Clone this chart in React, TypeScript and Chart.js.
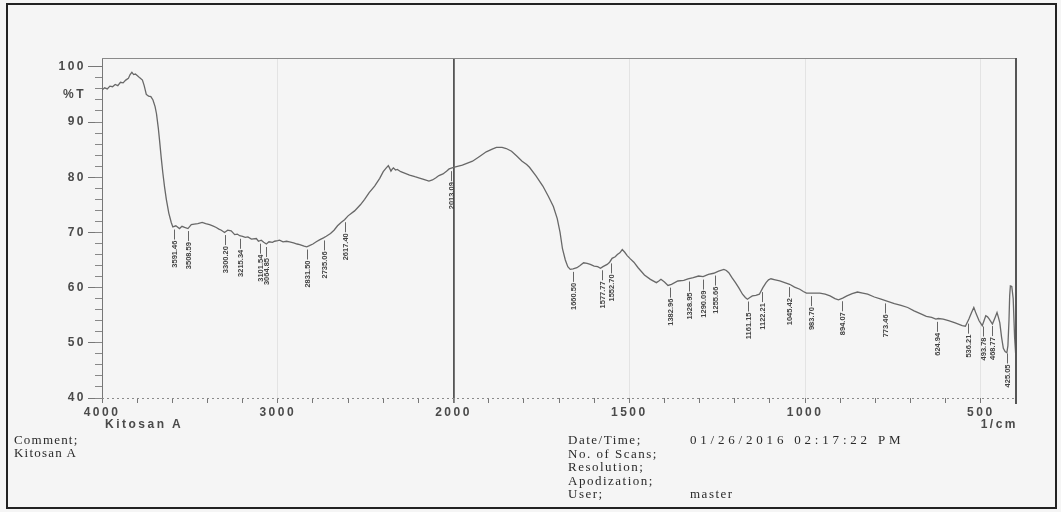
import React, { useEffect, useRef } from "react";
import { Chart, registerables } from "chart.js";

Chart.register(...registerables);

// ---- data ----
const wavenumbers = [
  4000, 3985, 3970, 3955, 3940, 3925, 3910, 3895, 3880, 3865, 3850, 3840, 3830, 3820, 3810, 3795, 3785, 3770,
  3760, 3748, 3735, 3722, 3710, 3698, 3690, 3680, 3672, 3663, 3654, 3644, 3634, 3620, 3606, 3597, 3580, 3559,
  3545, 3530, 3511, 3492, 3475, 3455, 3430, 3410, 3388, 3370, 3350, 3335, 3321, 3303, 3285, 3265, 3245, 3230,
  3217, 3200, 3185, 3170, 3150, 3122, 3110, 3094, 3080, 3065, 3050, 3030, 3018, 3000, 2990, 2970, 2950, 2933,
  2910, 2890, 2875, 2850, 2835, 2820, 2800, 2781, 2760, 2740, 2724, 2700, 2680, 2660, 2640, 2620, 2600, 2563,
  2530, 2506, 2480, 2449, 2420, 2400, 2385, 2371, 2363, 2356, 2348, 2342, 2330, 2320, 2300, 2275, 2250, 2220,
  2198, 2170, 2140, 2120, 2100, 2083, 2060, 2040, 2025, 2000, 1975, 1946, 1925, 1907, 1890, 1878, 1862, 1850,
  1835, 1821, 1805, 1792, 1784, 1765, 1746, 1730, 1716, 1705, 1697, 1690, 1682, 1675, 1668, 1660, 1649, 1640,
  1630, 1620, 1611, 1600, 1590, 1582, 1575, 1563, 1556, 1549, 1540, 1534, 1527, 1520, 1513, 1506, 1497, 1487,
  1475, 1457, 1440, 1423, 1416, 1410, 1400, 1390, 1380, 1362, 1345, 1333, 1318, 1303, 1290, 1275, 1260, 1246,
  1231, 1224, 1217, 1208, 1198, 1188, 1178, 1170, 1164, 1157, 1150, 1140, 1130, 1120, 1111, 1104, 1097, 1085,
  1072, 1058, 1044, 1030, 1015, 1005, 996, 975, 958, 943, 929, 915, 905, 893, 881, 866, 851, 836, 822, 803, 784,
  765, 746, 727, 708, 690, 669, 655, 640, 628, 621, 607, 592, 573, 553, 544, 534, 527, 520, 513, 505, 496, 491,
  486, 481, 476, 471, 467, 460, 454, 450, 446, 441, 436, 431, 426, 423, 420, 418, 416, 412, 408, 404, 400,
];
const transmittance = [
  95.8, 96.2, 96.0, 96.5, 96.4, 96.8, 96.6, 97.2, 97.1, 97.6, 97.9, 98.6, 99.0, 98.6, 98.7, 98.3, 98.0, 97.6,
  96.6, 95.0, 94.7, 94.6, 94.0, 92.8, 91.5, 89.0, 86.5, 83.5, 80.8, 78.2, 76.0, 73.5, 71.8, 71.0, 71.2, 70.7,
  71.1, 70.9, 70.7, 71.4, 71.5, 71.6, 71.8, 71.6, 71.4, 71.2, 70.9, 70.6, 70.4, 70.0, 70.4, 70.3, 69.6, 69.7,
  69.4, 69.3, 69.1, 69.2, 68.8, 68.9, 68.4, 68.6, 68.2, 67.9, 68.3, 68.2, 68.4, 68.5, 68.6, 68.3, 68.4, 68.3,
  68.1, 67.9, 67.8, 67.5, 67.4, 67.6, 67.9, 68.3, 68.7, 69.0, 69.3, 69.8, 70.4, 71.2, 71.8, 72.3, 73.0, 73.9,
  75.0, 76.0, 77.2, 78.4, 79.8, 81.0, 81.6, 82.1, 81.6, 81.1, 81.5, 81.7, 81.3, 81.4, 81.0, 80.7, 80.4, 80.1,
  79.9, 79.6, 79.3, 79.5, 79.9, 80.3, 80.6, 81.1, 81.5, 81.8, 82.2, 82.9, 83.8, 84.6, 85.1, 85.4, 85.4, 85.2,
  84.7, 83.9, 82.9, 82.3, 81.8, 80.2, 78.4, 76.5, 74.7, 72.5, 70.0, 67.0, 65.0, 63.8, 63.3, 63.4, 63.6, 64.0,
  64.5, 64.4, 64.2, 63.9, 63.8, 63.5, 63.8, 64.2, 64.6, 65.3, 65.6, 66.0, 66.3, 66.9, 66.4, 65.8, 65.2, 64.6,
  63.6, 62.3, 61.5, 60.9, 61.2, 61.5, 61.0, 60.4, 60.6, 61.2, 61.3, 61.6, 61.8, 62.1, 62.0, 62.4, 62.6, 63.0,
  63.3, 63.1, 62.7, 61.8, 60.9, 59.9, 58.8, 58.2, 57.9, 58.2, 58.5, 58.6, 58.8, 60.0, 60.9, 61.4, 61.6, 61.4,
  61.2, 60.9, 60.6, 60.1, 59.7, 59.3, 59.0, 59.0, 59.0, 58.8, 58.5, 58.0, 57.8, 58.1, 58.5, 58.9, 59.2, 59.0, 58.8, 58.3, 57.9,
  57.5, 57.1, 56.8, 56.4, 55.8, 55.2, 54.8, 54.6, 54.3, 54.4, 54.3, 54.0, 53.6, 53.1, 53.0, 54.3, 55.4, 56.4, 55.2, 54.0, 53.1, 54.0,
  54.9, 54.7, 54.3, 53.8, 53.4, 54.5, 55.5, 54.6, 53.6, 51.0, 49.0, 48.4, 48.2, 49.5, 54.0, 58.5, 60.3, 60.2, 58.0, 51.0, 47.0,
];
const peakLabels = [
  "3591.46", "3508.59", "3300.20", "3215.34", "3101.54", "3064.85", "2831.50", "2735.06", "2617.40", "2013.09",
  "1660.50", "1577.77", "1552.70", "1382.96", "1328.95", "1290.09", "1255.66", "1161.15", "1122.21", "1045.42",
  "983.70", "894.07", "773.46", "624.94", "536.21", "493.78", "468.77", "425.05",
];
const yTickValues = [40, 50, 60, 70, 80, 90, 95, 100];
const yTickLabels = ["40", "50", "60", "70", "80", "90", "%T", "100"];
const xTickWavenumbers = [4000, 3000, 2000, 1500, 1000, 500];
const sampleName = "Kitosan A";
const xUnit = "1/cm";
const commentLines = ["Comment;", "Kitosan A"];
const infoKeys = ["Date/Time;", "No. of Scans;", "Resolution;", "Apodization;", "User;"];
const infoValues = ["01/26/2016 02:17:22 PM", "", "", "", "master"];

// FTIR axis: the scale is expanded x2 below 2000 1/cm
const toU = (wn: number) => (wn >= 2000 ? 4000 - wn : 2000 + 2 * (2000 - wn));
const fromU = (u: number) => (u <= 2000 ? 4000 - u : 2000 - (u - 2000) / 2);
const near = (a: number, b: number) => Math.abs(a - b) < 1e-6;

function interpT(wn: number) {
  for (let i = 0; i < wavenumbers.length - 1; i++) {
    const a = wavenumbers[i], b = wavenumbers[i + 1];
    if (wn <= a && wn >= b) {
      const t = (a - wn) / (a - b);
      return transmittance[i] + t * (transmittance[i + 1] - transmittance[i]);
    }
  }
  return transmittance[transmittance.length - 1];
}

const TICK_FONT = { family: '"Liberation Sans", Arial, sans-serif', size: 12, weight: "bold" as const };

const spacingPlugin = {
  id: "spacing",
  beforeDraw(chart: any) {
    chart.ctx.letterSpacing = "2.5px";
  },
  afterDraw(chart: any) {
    chart.ctx.letterSpacing = "0px";
  },
};

const framePlugin = {
  id: "frame",
  afterDatasetsDraw(chart: any) {
    const { ctx, chartArea: a } = chart;
    ctx.save();
    ctx.strokeStyle = "#8a8a8a";
    ctx.lineWidth = 1;
    ctx.beginPath();
    ctx.moveTo(a.left, a.top + 0.5);
    ctx.lineTo(a.right, a.top + 0.5);
    ctx.stroke();
    ctx.setLineDash([2, 3]);
    ctx.strokeStyle = "#8a8a8a";
    ctx.beginPath();
    ctx.moveTo(a.left, a.bottom + 0.5);
    ctx.lineTo(a.right, a.bottom + 0.5);
    ctx.stroke();
    ctx.setLineDash([]);
    ctx.strokeStyle = "#555";
    ctx.lineWidth = 2;
    ctx.beginPath();
    ctx.moveTo(a.right, a.top);
    ctx.lineTo(a.right, a.bottom + 6);
    ctx.stroke();
    ctx.restore();
  },
};

const peakLabelPlugin = {
  id: "peakLabels",
  afterDatasetsDraw(chart: any) {
    const { ctx } = chart;
    const xs = chart.scales.x;
    const ys = chart.scales.y;
    ctx.save();
    ctx.letterSpacing = "0px";
    ctx.strokeStyle = "#666";
    ctx.fillStyle = "#444";
    ctx.lineWidth = 1;
    ctx.font = 'bold 7.5px "Liberation Sans", Arial, sans-serif';
    peakLabels.forEach((lab) => {
      const wn = parseFloat(lab);
      const px = Math.round(xs.getPixelForValue(toU(wn))) + 0.5;
      const py = ys.getPixelForValue(interpT(wn));
      ctx.beginPath();
      ctx.moveTo(px, py + 3);
      ctx.lineTo(px, py + 13);
      ctx.stroke();
      ctx.save();
      ctx.translate(px, py + 14);
      ctx.rotate(-Math.PI / 2);
      ctx.textAlign = "right";
      ctx.textBaseline = "middle";
      ctx.fillText(lab, 0, 0);
      ctx.restore();
    });
    ctx.restore();
  },
};

export default function App() {
  const ref = useRef<HTMLCanvasElement>(null);

  useEffect(() => {
    const chart = new Chart(ref.current as HTMLCanvasElement, {
      type: "line",
      data: {
        datasets: [
          {
            data: wavenumbers.map((w, i) => ({ x: toU(w), y: transmittance[i] })),
            borderColor: "#686868",
            borderWidth: 1.3,
            pointRadius: 0,
            fill: false,
            tension: 0,
            xAxisID: "x",
            yAxisID: "y",
          },
        ],
      },
      options: {
        animation: false,
        responsive: true,
        maintainAspectRatio: false,
        devicePixelRatio: 1,
        layout: { padding: { left: 0, top: 58, right: 45, bottom: 0 } },
        plugins: { legend: { display: false }, tooltip: { enabled: false }, title: { display: false } },
        scales: {
          x: {
            type: "linear",
            position: "bottom",
            min: 0,
            max: toU(400),
            afterFit: (s: any) => {
              s.height = 114;
            },
            ticks: {
              stepSize: 200,
              autoSkip: false,
              maxRotation: 0,
              padding: 2,
              color: "#4a4a4a",
              font: TICK_FONT,
              callback: (v: any) => {
                const hit = xTickWavenumbers.find((w) => near(toU(w), Number(v)));
                return hit !== undefined ? String(hit) : "";
              },
            },
            grid: {
              drawOnChartArea: true,
              tickLength: 5,
              tickColor: "#777",
              color: (c: any) => {
                const v = c.tick ? c.tick.value : NaN;
                if (near(fromU(v), 2000)) return "#555";
                if (v > 0 && xTickWavenumbers.some((w) => near(toU(w), v))) return "rgba(0,0,0,0.07)";
                return "rgba(0,0,0,0)";
              },
              lineWidth: (c: any) => (c.tick && near(fromU(c.tick.value), 2000) ? 1.8 : 1),
            },
            border: { display: false },
          },
          y: {
            type: "linear",
            position: "left",
            weight: 1,
            min: 40,
            max: 101.6,
            afterBuildTicks: (s: any) => {
              s.ticks = yTickValues.map((v) => ({ value: v }));
            },
            afterFit: (s: any) => {
              s.width = 102;
            },
            ticks: {
              autoSkip: false,
              padding: 2,
              color: "#4a4a4a",
              font: TICK_FONT,
              callback: (v: any) => {
                const i = yTickValues.indexOf(Number(v));
                return i >= 0 ? yTickLabels[i] : "";
              },
            },
            grid: {
              drawOnChartArea: false,
              tickLength: 14,
              tickColor: (c: any) => (c.tick && c.tick.value === 95 ? "rgba(0,0,0,0)" : "#777"),
            },
            border: { display: true, color: "#777", width: 1 },
          },
          yMinor: {
            type: "linear",
            position: "left",
            weight: 0,
            min: 40,
            max: 101.6,
            afterBuildTicks: (s: any) => {
              s.ticks = s.ticks.filter((t: any) => t.value <= 100.001);
            },
            afterFit: (s: any) => {
              s.width = 0;
            },
            ticks: { stepSize: 2, display: false },
            grid: { drawOnChartArea: false, tickLength: 7, tickColor: "#888" },
            border: { display: false },
          },
        },
      },
      plugins: [spacingPlugin, framePlugin, peakLabelPlugin],
    } as any);
    return () => chart.destroy();
  }, []);

  const sans = '"Liberation Sans", Arial, sans-serif';
  const serif = '"Liberation Serif", "Times New Roman", serif';
  const footStyle = (left: number, top: number, spacing: number): React.CSSProperties => ({
    position: "absolute",
    left,
    top,
    fontFamily: serif,
    fontSize: 13,
    lineHeight: "14px",
    color: "#2a2a2a",
    letterSpacing: spacing,
    whiteSpace: "pre",
  });

  return (
    <div
      style={{
        position: "fixed",
        left: 0,
        top: 0,
        width: 1061,
        height: 512,
        background: "#f5f5f5",
        overflow: "hidden",
      }}
    >
      <div style={{ position: "absolute", left: 0, top: 0, width: 1061, height: 512 }}>
        <canvas ref={ref} />
      </div>
      <div
        style={{
          position: "absolute",
          left: 6,
          top: 3,
          width: 1051,
          height: 506,
          boxSizing: "border-box",
          border: "2px solid #222",
          pointerEvents: "none",
        }}
      />
      <div
        style={{
          position: "absolute",
          left: 105,
          top: 418,
          fontFamily: sans,
          fontWeight: "bold",
          fontSize: 12,
          lineHeight: "13px",
          color: "#4a4a4a",
          letterSpacing: 2.5,
        }}
      >
        {sampleName}
      </div>
      <div
        style={{
          position: "absolute",
          right: 43,
          top: 418,
          fontFamily: sans,
          fontWeight: "bold",
          fontSize: 12,
          lineHeight: "13px",
          color: "#4a4a4a",
          letterSpacing: 2.5,
        }}
      >
        {xUnit}
      </div>
      {commentLines.map((t, i) => (
        <div key={"c" + i} style={footStyle(14, 433 + i * 13, 1.2)}>
          {t}
        </div>
      ))}
      {infoKeys.map((t, i) => (
        <div key={"k" + i} style={footStyle(568, 433 + i * 13.5, 1.5)}>
          {t}
        </div>
      ))}
      {infoValues.map((t, i) =>
        t ? (
          <div key={"v" + i} style={footStyle(690, 433 + i * 13.5, i === 0 ? 3.8 : 1.5)}>
            {t}
          </div>
        ) : null
      )}
    </div>
  );
}
